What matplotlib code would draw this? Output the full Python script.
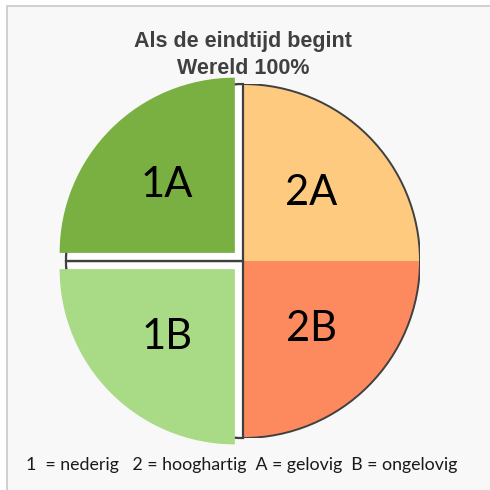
import matplotlib
matplotlib.use("Agg")
import matplotlib.pyplot as plt
from matplotlib.patches import Circle, Rectangle

title = "Als de eindtijd begint\nWereld 100%"
categories = ["1A", "1B", "2B", "2A"]
values = [25, 25, 25, 25]
colors = ["#7AB042", "#A9DA86", "#FC8A5E", "#FDCA80"]
exploded = [True, True, False, False]
footer = "1  = nederig   2 = hooghartig  A = gelovig  B = ongelovig"

fig = plt.figure(figsize=(4.9, 4.9), dpi=100)
fig.patch.set_facecolor("white")
bg = Rectangle((7/490, -0.01), 1.0, 1 - 6/490 + 0.01, transform=fig.transFigure,
               facecolor="#F8F8F8", edgecolor="#C8C8C8", linewidth=1.2, zorder=-10)
fig.patches.append(bg)

ax = fig.add_axes([0.1347, 0.1061, 0.7224, 0.7224])
ax.set_zorder(1)

# base: white left half, coloured right half
base_colors = ["white" if e else c for e, c in zip(exploded, colors)]
ax.pie(values, colors=base_colors, startangle=90, counterclock=True,
       wedgeprops=dict(linewidth=0), radius=1.0)

# outline of original left wedges (radial lines) and full circle
outline, _ = ax.pie(values, startangle=90, counterclock=True, radius=1.0,
                    wedgeprops=dict(facecolor="none", edgecolor="#404040", linewidth=1.6))
for w, e in zip(outline, exploded):
    if not e:
        w.set_edgecolor("none")
ax.add_patch(Circle((0, 0), 1.0, fill=False, edgecolor="#404040", linewidth=1.4))

# exploded wedges on top
top_colors = [c if e else "none" for e, c in zip(exploded, colors)]
explode = [0.065 if e else 0 for e in exploded]
wedges, texts = ax.pie(values, colors=top_colors, explode=explode, startangle=90,
                       counterclock=True, radius=0.99, labels=categories, labeldistance=0.55,
                       wedgeprops=dict(linewidth=0),
                       textprops=dict(fontsize=30, family="Lato", color="black"))
for t in texts:
    t.set_ha("center")
    t.set_va("center")
for w in wedges:
    w.set_clip_on(False)

ax.set_xlim(-1, 1)
ax.set_ylim(-1, 1)
ax.set_aspect("equal")
ax.axis("off")

fig.text(0.496, 0.937, title, ha="center", va="top", fontsize=15.5, fontweight="bold",
         family="Liberation Sans", color="#404040", linespacing=1.4)
fig.text(0.493, 0.052, footer, ha="center", va="center", fontsize=12.8,
         family="Lato", color="#1A1A1A")

fig.savefig("out.png", dpi=100, facecolor=fig.get_facecolor())
